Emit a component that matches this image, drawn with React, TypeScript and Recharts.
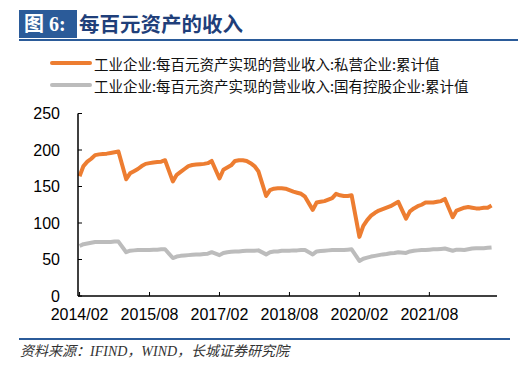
import React from 'react';
import { LineChart, Line, XAxis, YAxis } from 'recharts';

// Months reported (no January – Jan/Feb are combined), 2014/02 .. 2022/12
const years = [2014, 2015, 2016, 2017, 2018, 2019, 2020, 2021, 2022];
const reportMonths = [2, 3, 4, 5, 6, 7, 8, 9, 10, 11, 12];

// 工业企业:每百元资产实现的营业收入:私营企业:累计值
const privateValues = [
  164, 178, 184, 188, 193, 194, 194.5, 195, 196, 197, 198,
  160, 168, 171, 174, 178, 181, 182, 183, 183.5, 184, 186,
  157, 166, 170, 174, 178, 179.5, 180, 180.5, 181, 182, 185,
  161, 173, 176, 179, 185, 186, 186, 185, 182, 178, 171,
  137, 145, 147, 147.5, 147.5, 147, 145, 143, 141.5, 140, 136,
  118, 128, 129, 130, 132, 134, 140, 138, 137, 137, 138,
  81, 96, 104, 110, 114, 117, 119, 121, 123, 126, 129,
  106, 116, 120, 123, 125, 128, 128, 128, 129, 130, 133,
  108, 117, 119, 121, 122, 121, 120, 120, 121, 121, 124,
];

// 工业企业:每百元资产实现的营业收入:国有控股企业:累计值
const stateValues = [
  68.5, 71, 72, 73, 74, 74, 74, 74, 74, 74.5, 74.5,
  60, 62, 62.5, 63, 63, 63, 63, 63.5, 63.5, 64, 64,
  52, 54, 55, 55.5, 56, 56.5, 57, 57, 57.5, 58, 60,
  56, 59, 60, 60.5, 61, 61, 61.5, 62, 62, 62, 62.5,
  57, 60, 61, 61, 62, 62, 62, 62.5, 62.5, 63, 63,
  57, 61, 61.5, 62, 62.5, 63, 63, 63, 63, 63.5, 64,
  48, 51, 52.5, 54, 55, 56, 57, 57.5, 58.5, 59, 60,
  59, 61, 62, 62.5, 63, 63, 63.5, 64, 64, 64.5, 65,
  62, 63.5, 63.5, 63, 64, 65, 65.5, 65.5, 65.5, 66, 66.5,
];

const xTickLabels = ['2014/02', '2015/08', '2017/02', '2018/08', '2020/02', '2021/08'];
const yTicks = [0, 50, 100, 150, 200, 250];

const seriesNames = [
  '工业企业:每百元资产实现的营业收入:私营企业:累计值',
  '工业企业:每百元资产实现的营业收入:国有控股企业:累计值',
];

const START_YEAR = 2014;
const START_MONTH = 2;
const monthIndex = (y: number, m: number) => (y - START_YEAR) * 12 + (m - START_MONTH);
const labelToIndex = (label: string) => {
  const [y, m] = label.split('/').map(Number);
  return monthIndex(y, m);
};

const data: { t: number; priv: number; state: number }[] = [];
let k = 0;
for (const y of years) {
  for (const m of reportMonths) {
    data.push({ t: monthIndex(y, m), priv: privateValues[k], state: stateValues[k] });
    k++;
  }
}

const xTicks = xTickLabels.map(labelToIndex);
const xLabelMap: Record<number, string> = {};
xTickLabels.forEach((l) => (xLabelMap[labelToIndex(l)] = l));

const ORANGE = '#ED7D31';
const GRAY = '#BCBCBC';
const BLUE = '#2B5B99';

export default function App() {
  return (
    <div
      style={{
        position: 'fixed',
        left: 0,
        top: 0,
        width: 531,
        height: 374,
        background: '#fff',
        overflow: 'hidden',
      }}
    >
      {/* Title */}
      <div
        style={{
          position: 'absolute',
          left: 19,
          top: 10,
          width: 58,
          height: 28,
          background: BLUE,
          color: '#fff',
          fontFamily: '"Liberation Serif", "Noto Sans CJK SC", serif',
          fontWeight: 700,
          fontSize: 20,
          lineHeight: '28px',
          paddingLeft: 5,
          boxSizing: 'border-box',
          whiteSpace: 'nowrap',
        }}
      >
        图 6:
      </div>
      <div
        style={{
          position: 'absolute',
          left: 79,
          top: 9,
          color: '#1F3F7A',
          fontFamily: '"Noto Sans CJK SC", sans-serif',
          fontWeight: 700,
          fontSize: 20.5,
          lineHeight: '28px',
          whiteSpace: 'nowrap',
        }}
      >
        每百元资产的收入
      </div>
      <div style={{ position: 'absolute', left: 19, top: 39, width: 499, height: 2, background: BLUE }} />

      {/* Legend */}
      {[ORANGE, GRAY].map((c, i) => (
        <React.Fragment key={i}>
          <div
            style={{
              position: 'absolute',
              left: 50,
              top: 63 + i * 21.5 - 2,
              width: 42,
              height: 4,
              borderRadius: 2,
              background: c,
            }}
          />
          <div
            style={{
              position: 'absolute',
              left: 94,
              top: 54 + i * 21.5,
              fontFamily: '"Noto Sans CJK SC", sans-serif',
              fontSize: 14.5,
              lineHeight: '20px',
              color: '#111',
              whiteSpace: 'nowrap',
            }}
          >
            {seriesNames[i]}
          </div>
        </React.Fragment>
      ))}

      {/* Chart */}
      <div style={{ position: 'absolute', left: 0, top: 0 }}>
        <LineChart
          width={531}
          height={374}
          data={data}
          margin={{ top: 113.5, right: 34, bottom: 48, left: 18 }}
        >
          <XAxis
            dataKey="t"
            type="number"
            domain={[-0.4, 107.4]}
            ticks={xTicks}
            tickFormatter={(v: number) => xLabelMap[v] ?? ''}
            height={30}
            axisLine={{ stroke: '#000', strokeWidth: 1.5 }}
            tickLine={{ stroke: '#000', strokeWidth: 1 }}
            tickSize={-4}
            tickMargin={17}
            tick={{ fill: '#000', fontSize: 16, fontFamily: '"Liberation Sans", Arial, sans-serif' }}
            interval={0}
          />
          <YAxis
            type="number"
            domain={[0, 250]}
            ticks={yTicks}
            width={60}
            axisLine={{ stroke: '#000', strokeWidth: 1.5 }}
            tickLine={{ stroke: '#000', strokeWidth: 1 }}
            tickSize={-4}
            tickMargin={22}
            tick={{ fill: '#000', fontSize: 16, fontFamily: '"Liberation Sans", Arial, sans-serif' }}
            interval={0}
          />
          <Line
            type="linear"
            dataKey="state"
            stroke={GRAY}
            strokeWidth={4}
            dot={false}
            isAnimationActive={false}
            strokeLinejoin="round"
          />
          <Line
            type="linear"
            dataKey="priv"
            stroke={ORANGE}
            strokeWidth={4}
            dot={false}
            isAnimationActive={false}
            strokeLinejoin="round"
          />
        </LineChart>
      </div>

      {/* Source */}
      <div style={{ position: 'absolute', left: 19, top: 338, width: 491, height: 1.5, background: BLUE }} />
      <div
        style={{
          position: 'absolute',
          left: 20,
          top: 342,
          fontFamily: '"Liberation Serif", "Noto Sans CJK SC", serif',
          fontStyle: 'italic',
          fontSize: 14,
          lineHeight: '20px',
          color: '#333',
          whiteSpace: 'nowrap',
        }}
      >
        资料来源：IFIND，WIND，长城证券研究院
      </div>
    </div>
  );
}
